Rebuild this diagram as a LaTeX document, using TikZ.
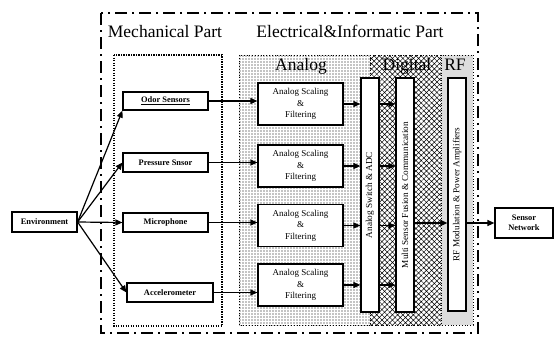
\documentclass[tikz,border=0pt]{standalone}
\usepackage{fontspec}
\usepackage{graphicx}
\setmainfont{Liberation Serif}
\usetikzlibrary{arrows.meta,patterns,patterns.meta}

\begin{document}
\begin{tikzpicture}[x=1pt,y=-1pt,
  box/.style={draw,line width=1.2pt,fill=white,inner sep=0pt,align=center},
  sensor/.style={box,minimum width=85pt,minimum height=19pt,
    font=\fontsize{8.4}{10}\selectfont\bfseries},
  scaler/.style={box,minimum width=85pt,minimum height=42pt,
    font=\fontsize{9}{11.5}\selectfont},
  column/.style={box,minimum width=18pt,minimum height=234pt,
    font=\fontsize{9.2}{11}\selectfont},
  title/.style={anchor=base,inner sep=0pt,font=\fontsize{17.5}{20}\selectfont},
  flow/.style={line width=1.2pt,-{Triangle[length=7pt,width=6pt]}},
  outerframe/.style={line width=1.4pt,dash pattern=on 12pt off 5pt on 2pt off 5pt},
  mechframe/.style={line width=1.2pt,dash pattern=on 1.2pt off 1.3pt}
]
\useasboundingbox (0,0) rectangle (554,341);

% outer frame and section labels
\draw[outerframe] (101,13) rectangle (478,333);
\node[title] (tmech) at (165,37) {Mechanical Part};
\node[title] (telec) at (350,37) {Electrical\&Informatic Part};

% mechanical part enclosure
\draw[mechframe] (114,55) rectangle (222,326);

% electrical regions: analog, digital, RF
\fill[pattern={Dots[distance=3pt,radius=0.62pt]}] (239,55) rectangle (370,325);
\fill[pattern={Hatch[angle=45,distance=3.7pt,line width=0.5pt]}] (370,55) rectangle (441,325);
\fill[gray!22] (441,55) rectangle (473,325);
\fill[pattern={Dots[distance=2pt,radius=0.45pt]},pattern color=gray!70] (441,55) rectangle (473,325);
\draw[line width=0.8pt,dotted] (239,55) rectangle (473,325);
\draw[line width=0.5pt,dotted] (370,55) -- (370,325) (441,55) -- (441,325);
\node[title] (tan) at (301,70) {Analog};
\node[title] (tdig) at (407,70) {Digital};
\node[title] (trf) at (455,70) {RF};

% environment and sensors
\node[sensor,minimum width=65pt,minimum height=20pt] (env) at (44.5,222) {Environment};
\node[sensor,minimum height=18pt] (odor) at (165.5,101) {\underline{Odor Sensors}};
\node[sensor] (press) at (165.5,162.5) {Pressure Snsor};
\node[sensor] (mic) at (165.5,222.5) {Microphone};
\node[sensor,minimum width=86pt] (acc) at (170,292.5) {Accelerometer};

% analog conditioning stages
\node[scaler] (an1) at (300.5,104) {Analog Scaling\\\&\\Filtering};
\node[scaler] (an2) at (300.5,166) {Analog Scaling\\\&\\Filtering};
\node[scaler] (an3) at (300.5,225.5) {Analog Scaling\\\&\\Filtering};
\node[scaler] (an4) at (300.5,285) {Analog Scaling\\\&\\Filtering};

% vertical processing columns
\node[column] (adc) at (370,195) {\rotatebox{90}{Analog Switch \& ADC}};
\node[column] (fus) at (405,195) {\rotatebox{90}{Multi Sensor Fusion \& Communication}};
\node[column,minimum height=233pt] (rf) at (457,194.5) {\rotatebox{90}{RF Modulation \& Power Amplifiers}};

% output
\node[sensor,minimum width=58pt,minimum height=30pt] (sn) at (524,223) {Sensor\\Network};

% environment to sensors
\draw[flow] (env.east) -- (odor.south west);
\draw[flow] (env.east) -- (press.west);
\draw[flow] (env.east) -- (mic.west);
\draw[flow] (env.east) -- (acc.west);

% sensors to analog stages
\draw[flow] (odor.east) -- (an1.west |- odor.east);
\draw[flow] (press.east) -- (an2.west |- press.east);
\draw[flow] (mic.east) -- (an3.west |- mic.east);
\draw[flow] (acc.east) -- (an4.west |- acc.east);

% analog stages to ADC, ADC to fusion
\foreach \s in {an1,an2,an3,an4}{
  \draw[flow] (\s.east) -- (adc.west |- \s.east);
  \draw[flow] (adc.east |- \s.east) -- (fus.west |- \s.east);
}

% fusion to RF to network
\draw[flow] (fus.east |- sn.west) -- (rf.west |- sn.west);
\draw[flow] (rf.east |- sn.west) -- (sn.west);
\end{tikzpicture}
\end{document}
